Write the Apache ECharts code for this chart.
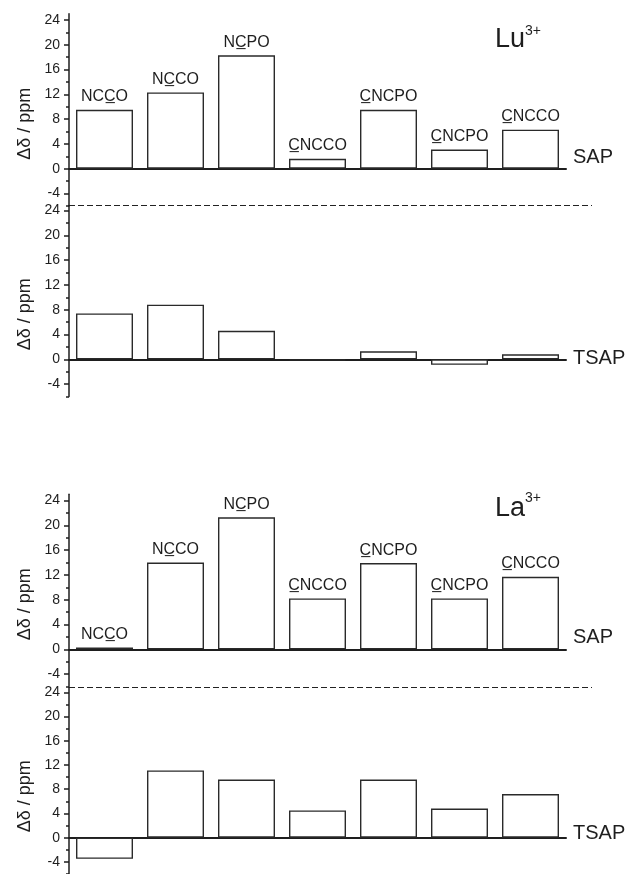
<!DOCTYPE html>
<html>
<head>
<meta charset="utf-8">
<script src="https://cdn.jsdelivr.net/npm/echarts@6/dist/echarts.min.js"></script>
<style>
html,body{margin:0;padding:0;background:#fff;}
#chart{width:626px;height:874px;}
</style>
</head>
<body>
<div id="chart"></div>
<script>
// ---- data ----
const bondLabels = ['NCCO', 'NCCO', 'NCPO', 'CNCCO', 'CNCPO', 'CNCPO', 'CNCCO'];
const underlinePos = [2, 1, 1, 0, 0, 0, 0];
const luSAP  = [9.5, 12.3, 18.3, 1.6, 9.5, 3.1, 6.3];
const luTSAP = [7.4, 8.8, 4.6, -0.2, 1.3, -0.9, 0.8];
const laSAP  = [0.3, 14.0, 21.3, 8.2, 13.9, 8.2, 11.7];
const laTSAP = [-3.5, 11.1, 9.6, 4.5, 9.6, 4.8, 7.2];
const yMajor = [-4, 0, 4, 8, 12, 16, 20, 24];
const yMinor = [-6, -2, 2, 6, 10, 14, 18, 22];
const panelNames = ['SAP', 'TSAP', 'SAP', 'TSAP'];
const ionNames = ['Lu', 'La'];
const ionCharge = '3+';
const yTitle = 'Δδ / ppm';

const FONT = '"Liberation Sans", Arial, Helvetica, sans-serif';
const INK = '#1e1e1e';

function underlined(s, i) {
  return s.slice(0, i + 1) + '\u0332' + s.slice(i + 1);
}
const labelTexts = bondLabels.map((s, i) => underlined(s, underlinePos[i]));

// panel layout
const panels = [
  { top: 13.7, bottom: 874 - 205.9, max: 25,   data: luSAP,  labels: true },
  { top: 205.5, bottom: 874 - 396.5, max: 24.8, data: luTSAP, labels: false },
  { top: 494.3, bottom: 874 - 686.5, max: 25,   data: laSAP,  labels: true },
  { top: 687.5, bottom: -4.5, max: 24.8,        data: laTSAP, labels: false }
];

const grid = [], xAxis = [], yAxis = [], series = [];
panels.forEach((p, k) => {
  grid.push({ left: 69, right: 60, top: p.top, bottom: p.bottom, containLabel: false });
  xAxis.push({
    type: 'category', gridIndex: k, data: bondLabels, boundaryGap: true,
    axisLine: { onZero: true, lineStyle: { color: INK, width: 2 } },
    axisTick: { show: false }, axisLabel: { show: false }, splitLine: { show: false }
  });
  yAxis.push({
    type: 'value', gridIndex: k, position: 'left', min: -6, max: p.max,
    axisLine: { show: true, onZero: false, lineStyle: { color: INK, width: 1.5 } },
    axisTick: { show: true, length: 5, inside: false, customValues: yMajor, lineStyle: { color: INK, width: 1.5 } },
    axisLabel: { show: true, customValues: yMajor, margin: 9, color: INK, fontSize: 14, fontFamily: FONT },
    splitLine: { show: false }
  });
  yAxis.push({
    type: 'value', gridIndex: k, position: 'left', offset: 0, min: -6, max: p.max,
    axisLine: { show: false, onZero: false },
    axisTick: { show: true, length: 3, inside: false, customValues: yMinor, lineStyle: { color: INK, width: 1.5 } },
    axisLabel: { show: false },
    splitLine: { show: false }
  });
  series.push({
    type: 'bar', xAxisIndex: k, yAxisIndex: 2 * k, data: p.data,
    barWidth: 57,
    itemStyle: { color: '#ffffff', borderColor: '#2a2a2a', borderWidth: 1.4 },
    label: {
      show: p.labels, position: 'top', distance: 5,
      formatter: (d) => labelTexts[d.dataIndex],
      color: INK, fontSize: 16, fontFamily: FONT
    },
    silent: true, animation: false
  });
});

const zeroY = [168.7, 359.3, 649.3, 841.3];
const nameMid = [157.5, 358.3, 637.5, 833.4];
const graphic = [];
// dashed break lines
[205.5, 687.5].forEach(y => {
  graphic.push({ type: 'line', shape: { x1: 69, y1: y, x2: 592, y2: y },
    style: { stroke: '#222', lineWidth: 1, lineDash: [6, 3] }, silent: true });
});
// panel names
panelNames.forEach((n, k) => {
  graphic.push({ type: 'text', x: 573, y: nameMid[k],
    style: { text: n, font: '20px ' + FONT, fill: INK, textAlign: 'left', textVerticalAlign: 'middle' } });
});
// y titles
zeroY.forEach(z => {
  graphic.push({ type: 'text', x: 25, y: z - 45, rotation: Math.PI / 2,
    style: { text: yTitle, font: '18px ' + FONT, fill: INK, textAlign: 'center', textVerticalAlign: 'middle' } });
});
// ion labels
const ionMid = [40, 509], supMid = [31, 498];
ionNames.forEach((n, k) => {
  graphic.push({ type: 'text', x: 495, y: ionMid[k],
    style: { text: n, font: '27px ' + FONT, fill: INK, textAlign: 'left', textVerticalAlign: 'middle' } });
  graphic.push({ type: 'text', x: 525, y: supMid[k],
    style: { text: ionCharge, font: '14px ' + FONT, fill: INK, textAlign: 'left', textVerticalAlign: 'middle' } });
});

const chart = echarts.init(document.getElementById('chart'), null, { renderer: 'canvas' });
chart.setOption({
  backgroundColor: '#ffffff',
  animation: false,
  grid, xAxis, yAxis, series, graphic
});
</script>
</body>
</html>
